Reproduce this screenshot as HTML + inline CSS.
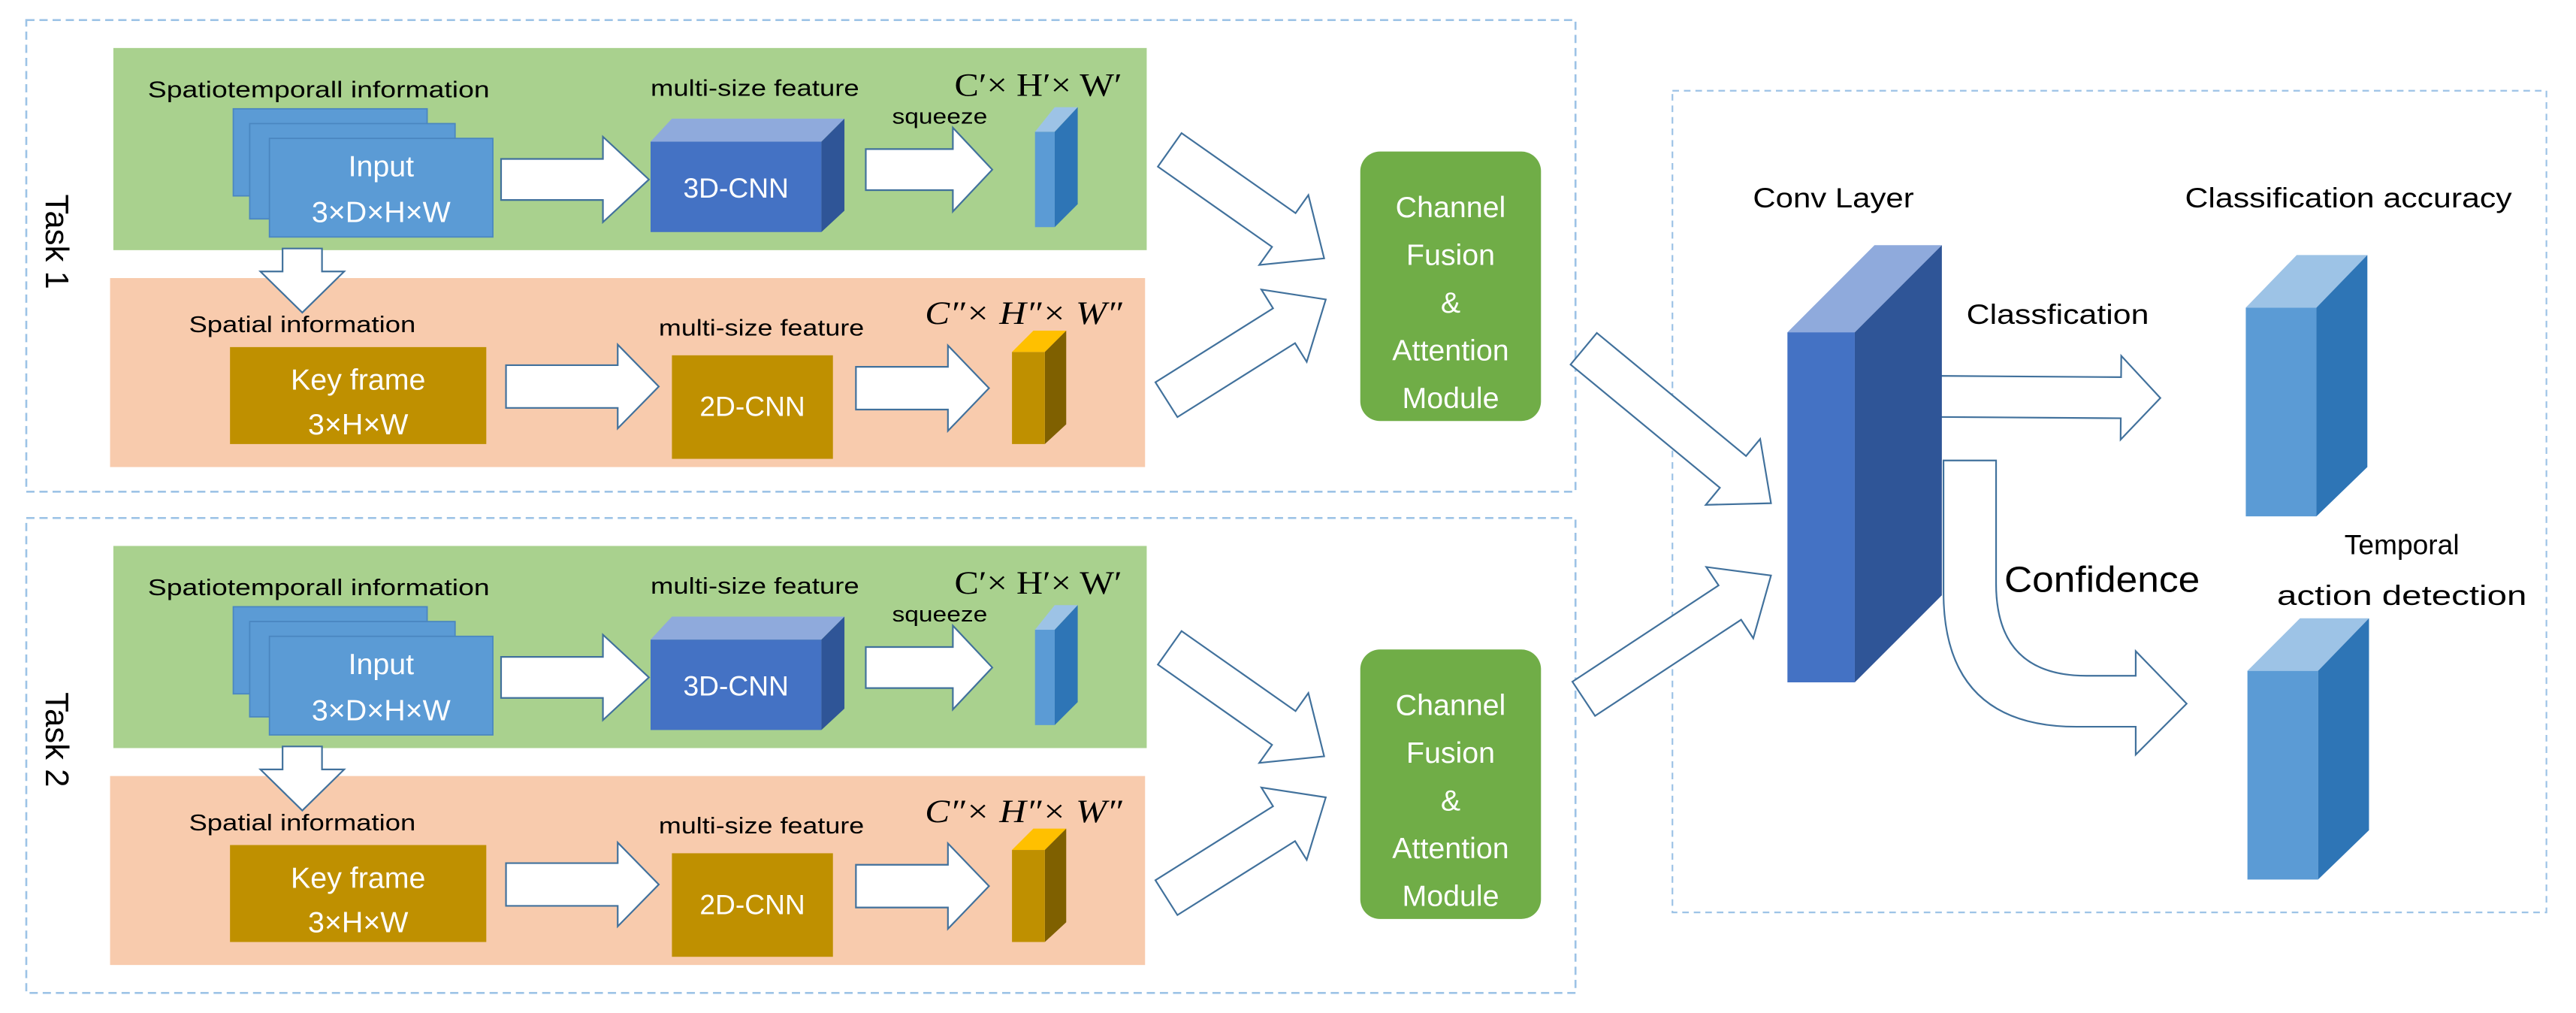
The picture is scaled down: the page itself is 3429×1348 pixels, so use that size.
<!DOCTYPE html>
<html><head><meta charset="utf-8"><style>
html,body{margin:0;padding:0;background:#fff;}
svg{display:block;}
text{font-family:"Liberation Sans",sans-serif;}
</style></head><body>
<svg id="s" width="3429" height="1348" viewBox="0 0 1568 616" xmlns="http://www.w3.org/2000/svg">
<rect width="1568" height="616" fill="#fff"/>
<rect x="16" y="12" width="943" height="287" fill="none" stroke="#9dc3e6" stroke-width="1.2" stroke-dasharray="5,3"/>
<rect x="16" y="315" width="943" height="289" fill="none" stroke="#9dc3e6" stroke-width="1.2" stroke-dasharray="5,3"/>
<rect x="1018" y="55" width="532" height="500" fill="none" stroke="#9dc3e6" stroke-width="1" stroke-dasharray="4,3"/>

<g id="task1">
<rect x="69" y="29" width="629" height="123" fill="#a9d18e"/>
<rect x="67" y="169" width="630" height="115" fill="#f8cbad"/>
<text x="90" y="59" font-size="14" textLength="208" lengthAdjust="spacingAndGlyphs">Spatiotemporall  information</text>
<text x="396" y="58" font-size="14" textLength="127" lengthAdjust="spacingAndGlyphs">multi-size feature</text>
<text x="581" y="58" font-size="20" textLength="102" lengthAdjust="spacingAndGlyphs" style="font-family:'Liberation Serif',serif">C′× H′× W′</text>
<text x="543" y="75" font-size="13" textLength="58" lengthAdjust="spacingAndGlyphs">squeeze</text>
<rect x="142" y="66" width="118" height="53" fill="#5b9bd5" stroke="#4a86c0" stroke-width="0.8"/>
<rect x="152" y="75" width="125" height="58" fill="#5b9bd5" stroke="#4a86c0" stroke-width="0.8"/>
<rect x="164" y="84" width="136" height="60" fill="#5b9bd5" stroke="#4a86c0" stroke-width="0.8"/>
<text x="232" y="107" font-size="18" fill="#fff" text-anchor="middle">Input</text>
<text x="232" y="135" font-size="18" fill="#fff" text-anchor="middle">3×D×H×W</text>
<polygon points="396,86 409,72 514,72 500,86" fill="#8faadc"/>
<polygon points="500,86 514,72 514,128 500,141" fill="#2f5597"/>
<rect x="396" y="86" width="104" height="55" fill="#4472c4"/>
<text x="448" y="120" font-size="17" fill="#fff" text-anchor="middle">3D-CNN</text>
<polygon points="630,80 642,65 656,65 642,80" fill="#9dc3e6"/>
<polygon points="642,80 656,65 656,124 642,138" fill="#2e75b6"/>
<rect x="630" y="80" width="12" height="58" fill="#5b9bd5"/>
<text x="115" y="202" font-size="14" textLength="138" lengthAdjust="spacingAndGlyphs">Spatial information</text>
<text x="401" y="204" font-size="14" textLength="125" lengthAdjust="spacingAndGlyphs">multi-size feature</text>
<text x="563" y="197" font-size="20" font-style="italic" style="font-family:'Liberation Serif',serif" textLength="120" lengthAdjust="spacingAndGlyphs">C″× H″× W″</text>
<rect x="140" y="211" width="156" height="59" fill="#bf9000"/>
<text x="218" y="237" font-size="18" fill="#fff" text-anchor="middle">Key frame</text>
<text x="218" y="264" font-size="18" fill="#fff" text-anchor="middle">3×H×W</text>
<rect x="409" y="216" width="98" height="63" fill="#bf9000"/>
<text x="458" y="253" font-size="17" fill="#fff" text-anchor="middle">2D-CNN</text>
<polygon points="616,214 629,201 649,201 636,214" fill="#ffc000"/>
<polygon points="636,214 649,201 649,258 636,270" fill="#7f6000"/>
<rect x="616" y="214" width="20" height="56" fill="#bf9000"/>
<rect x="828" y="92" width="110" height="164" rx="12" fill="#70ad47"/>
<text x="883" y="132" font-size="18" fill="#fff" text-anchor="middle">Channel</text>
<text x="883" y="161" font-size="18" fill="#fff" text-anchor="middle">Fusion</text>
<text x="883" y="190" font-size="18" fill="#fff" text-anchor="middle">&amp;</text>
<text x="883" y="219" font-size="18" fill="#fff" text-anchor="middle">Attention</text>
<text x="883" y="248" font-size="18" fill="#fff" text-anchor="middle">Module</text>
<text x="0" y="0" font-size="20" transform="translate(28,118) rotate(90)">Task 1</text>
</g>
<g id="arrows"></g>

<text x="1067" y="126" font-size="17" textLength="98" lengthAdjust="spacingAndGlyphs">Conv Layer</text>
<text x="1330" y="126" font-size="17" textLength="199" lengthAdjust="spacingAndGlyphs">Classification accuracy</text>
<polygon points="1088,202 1141,149 1182,149 1129,202" fill="#8faadc"/>
<polygon points="1129,202 1182,149 1182,362 1129,415" fill="#2f5597"/>
<rect x="1088" y="202" width="41" height="213" fill="#4472c4"/>
<polygon points="1367,187 1398,155 1441,155 1410,187" fill="#9dc3e6"/>
<polygon points="1410,187 1441,155 1441,284 1410,314" fill="#2e75b6"/>
<rect x="1367" y="187" width="43" height="127" fill="#5b9bd5"/>
<polygon points="1368,408 1400,376 1442,376 1411,408" fill="#9dc3e6"/>
<polygon points="1411,408 1442,376 1442,505 1411,535" fill="#2e75b6"/>
<rect x="1368" y="408" width="43" height="127" fill="#5b9bd5"/>
<text x="1197" y="197" font-size="17" textLength="111" lengthAdjust="spacingAndGlyphs">Classfication</text>
<text x="1220" y="360" font-size="22" textLength="119" lengthAdjust="spacingAndGlyphs">Confidence</text>
<text x="1462" y="337" font-size="17" text-anchor="middle">Temporal</text>
<text x="1462" y="368" font-size="17" text-anchor="middle" textLength="152" lengthAdjust="spacingAndGlyphs">action detection</text>
<path d="M1183,280 L1215,280 L1215,355 Q1215,411 1270,411 L1300,411 L1300,396 L1331,428 L1300,459 L1300,442 L1264,442 Q1183,442 1183,360 Z" fill="#fff" stroke="#41719c" stroke-width="1"/>
</svg>
<script>
var NS="http://www.w3.org/2000/svg";
var s=document.getElementById('s');
var t1=document.getElementById('task1');
var t2=t1.cloneNode(true);t2.setAttribute('transform','translate(0,303)');
s.insertBefore(t2,document.getElementById('arrows'));
var tt=t2.querySelectorAll('text');tt[tt.length-1].textContent='Task 2';
var g=document.getElementById('arrows');
function arr(x1,y1,x2,y2,bw,hw,hl){
 var dx=x2-x1,dy=y2-y1,L=Math.hypot(dx,dy),ux=dx/L,uy=dy/L,nx=-uy,ny=ux;
 var b=L-hl;
 function p(a,o){return (x1+ux*a+nx*o).toFixed(1)+','+(y1+uy*a+ny*o).toFixed(1);}
 var pts=[p(0,-bw/2),p(b,-bw/2),p(b,-hw/2),p(L,0),p(b,hw/2),p(b,bw/2),p(0,bw/2)];
 var e=document.createElementNS(NS,'polygon');e.setAttribute('points',pts.join(' '));
 e.setAttribute('fill','#fff');e.setAttribute('stroke','#41719c');e.setAttribute('stroke-width','1');
 g.appendChild(e);
}
[0,303].forEach(function(o){
 arr(305,109+o,395,109+o,25,52,28);
 arr(527,103+o,604,103+o,25,51,24);
 arr(184,151+o,184,190+o,24,51,25);
 arr(308,235+o,401,235+o,26,51,25);
 arr(521,236+o,602,236+o,26,52,25);
 arr(712,91+o,806,157+o,25,52,30);
 arr(710,243+o,807,182+o,25,52,30);
});
arr(964,212,1078,306,25,52,30);
arr(964,425,1078,350,25,52,30);
arr(1178,241,1315,242,25,51,24);
</script>
</body></html>
